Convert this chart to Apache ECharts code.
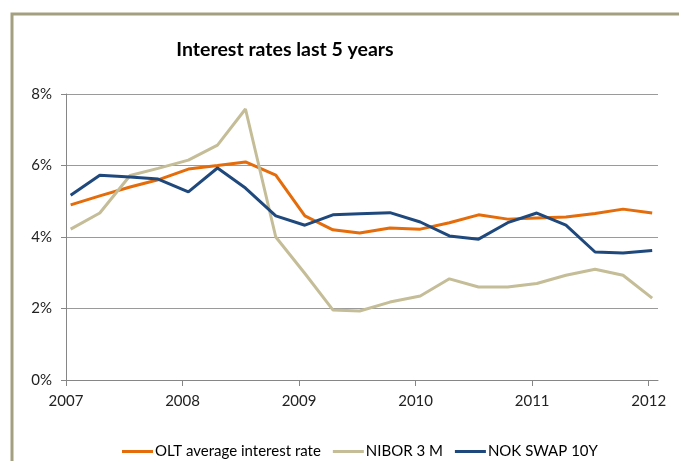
<!DOCTYPE html>
<html>
<head>
<meta charset="utf-8">
<script src="https://cdn.jsdelivr.net/npm/echarts@6/dist/echarts.min.js"></script>
<style>
  html, body { margin: 0; padding: 0; background: #fff; }
  #chart { width: 679px; height: 461px; }
</style>
</head>
<body>
<div id="chart"></div>
<script>
// quarterly observations, as decimal years (mid Jan / Apr / Jul / Oct)
const dates = [2007.04, 2007.29, 2007.55, 2007.79, 2008.05, 2008.30, 2008.54, 2008.80,
  2009.05, 2009.29, 2009.52, 2009.78, 2010.04, 2010.29, 2010.54, 2010.79,
  2011.04, 2011.29, 2011.54, 2011.78, 2012.03];
const yearLabels = [2007, 2008, 2009, 2010, 2011, 2012];

const oltRate = [4.90, 5.15, 5.40, 5.60, 5.90, 6.00, 6.10, 5.73, 4.59, 4.20, 4.11,
  4.25, 4.22, 4.40, 4.62, 4.50, 4.53, 4.56, 4.66, 4.78, 4.67];
const nibor3m = [4.22, 4.67, 5.72, 5.92, 6.15, 6.57, 7.58, 4.00, 2.98, 1.96, 1.93,
  2.18, 2.35, 2.83, 2.60, 2.60, 2.70, 2.93, 3.10, 2.93, 2.29];
const nokSwap10y = [5.17, 5.73, 5.68, 5.62, 5.26, 5.93, 5.37, 4.59, 4.33, 4.62, 4.65,
  4.68, 4.42, 4.03, 3.94, 4.40, 4.67, 4.33, 3.58, 3.55, 3.62];

const seriesNames = ['OLT average interest rate', 'NIBOR 3 M', 'NOK SWAP 10Y'];
const seriesColors = ['#E46C0A', '#C4BD97', '#1F497D'];
const seriesValues = [oltRate, nibor3m, nokSwap10y];

const font = 'Lato, "Open Sans", sans-serif';

const myChart = echarts.init(document.getElementById('chart'));
const option = {
  animation: false,
  title: {
    text: 'Interest rates last 5 years',
    left: 280,
    top: 35,
    textAlign: 'center',
    textStyle: { fontFamily: font, fontSize: 19.5, fontWeight: 'bold', color: '#000' }
  },
  graphic: [{
    type: 'rect',
    shape: { x: 12, y: 14, width: 720, height: 500 },
    style: { fill: 'none', stroke: '#A3A082', lineWidth: 3 },
    silent: true
  }],
  grid: { left: 66, right: 21, top: 94, bottom: 81 },
  legend: {
    left: 117,
    top: 439,
    itemWidth: 31,
    itemHeight: 3,
    itemGap: 12,
    icon: 'rect',
    textStyle: { fontFamily: font, fontSize: 15, color: '#000', padding: [0, 0, 0, -3] },
    data: seriesNames
  },
  xAxis: {
    type: 'value',
    min: 2007,
    max: 2012.08,
    interval: 1,
    axisLine: { lineStyle: { color: '#868686', width: 1 } },
    axisTick: { show: true, length: 6, lineStyle: { color: '#868686' }, customValues: yearLabels },
    axisLabel: {
      customValues: yearLabels,
      margin: 14,
      fontFamily: font, fontSize: 15, color: '#222',
      formatter: v => String(v)
    },
    splitLine: { show: false }
  },
  yAxis: {
    type: 'value',
    min: 0,
    max: 8,
    interval: 2,
    axisLine: { show: true, lineStyle: { color: '#868686', width: 1 } },
    axisTick: { show: true, length: 5, lineStyle: { color: '#868686' } },
    axisLabel: {
      margin: 14,
      fontFamily: font, fontSize: 15, color: '#222',
      formatter: v => v + '%'
    },
    splitLine: { lineStyle: { color: '#9a9a9a', width: 1 } }
  },
  series: seriesNames.map((name, i) => ({
    name: name,
    type: 'line',
    showSymbol: false,
    symbol: 'none',
    color: seriesColors[i],
    lineStyle: { width: 3, color: seriesColors[i] },
    data: dates.map((d, j) => [d, seriesValues[i][j]])
  }))
};
myChart.setOption(option);
</script>
</body>
</html>
